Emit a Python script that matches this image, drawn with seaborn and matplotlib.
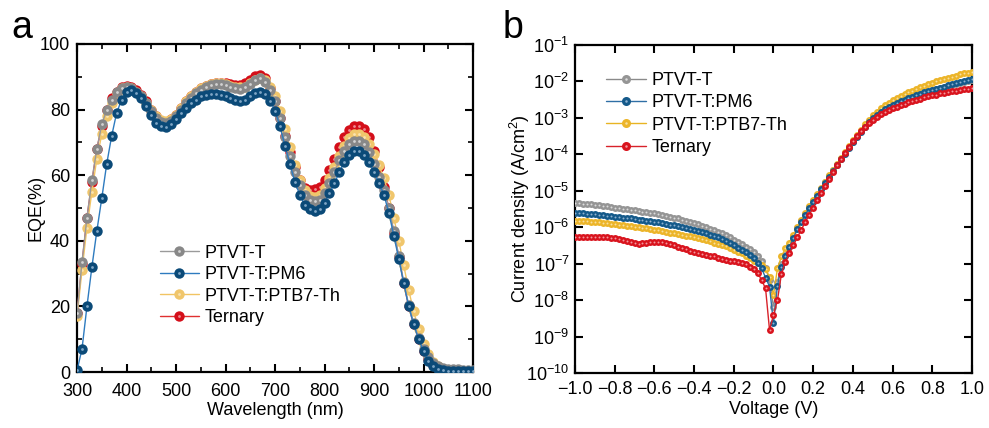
import numpy as np
import matplotlib
matplotlib.use("Agg")
import matplotlib.pyplot as plt
from matplotlib.lines import Line2D
from matplotlib.ticker import MultipleLocator, LogLocator, NullLocator
import seaborn as sns

# ---- data: EQE spectra (panel a) ----
wavelength = [300, 310, 320, 330, 340, 350, 360, 370, 380, 390,
              400, 410, 420, 430, 440, 450, 460, 470, 480, 490,
              500, 510, 520, 530, 540, 550, 560, 570, 580, 590,
              600, 610, 620, 630, 640, 650, 660, 670, 680, 690,
              700, 710, 720, 730, 740, 750, 760, 770, 780, 790,
              800, 810, 820, 830, 840, 850, 860, 870, 880, 890,
              900, 910, 920, 930, 940, 950, 960, 970, 980, 990,
              1000, 1010, 1020, 1030, 1040, 1050, 1060, 1070, 1080, 1090, 1100]

eqe_ptvt = [18, 33.5, 47, 58.5, 68, 75.5, 80, 83, 85.5, 86.5,
            86.8, 86.5, 85.5, 84, 82, 79.5, 77.5, 76.3, 76, 76.5,
            78, 80, 82, 83.5, 85, 86, 87, 87.5, 87.8, 87.7,
            87.5, 87, 86.5, 86.3, 86.8, 87.8, 89, 89.5, 88.5, 86,
            82.5, 77.5, 71.5, 66, 61, 57, 54, 52.5, 52, 52.5,
            54.5, 57.5, 61, 64.5, 67.5, 69.5, 70.5, 70.5, 69.5, 67,
            63.5, 59.5, 55.5, 50, 43, 35.5, 27.5, 20.5, 15, 10.5,
            7, 4.5, 2.8, 1.8, 1.2, 1, 0.9, 0.8, 0.7, 0.7, 0.7]

eqe_pm6 = [0.5, 7, 20, 32, 43, 53, 63.5, 72, 79, 83,
           85.5, 86, 85, 83.5, 81, 78.5, 76, 75, 74.6, 75.5,
           77, 79, 80.5, 82, 83, 84, 84.5, 84.8, 84.7, 84.3,
           84, 83.5, 83, 82.7, 83, 84, 85, 85.5, 84.8, 82.7,
           79.7, 74.9, 69, 63.4, 58, 54, 51, 49.7, 49.2, 49.8,
           51.5, 54.5, 57.5, 61, 64, 66.3, 67.3, 67.3, 66.3, 64,
           61, 57.5, 54, 48.5, 41.5, 34.5, 27, 20, 14.5, 10,
           6.3, 3.5, 1.8, 1, 0.6, 0.4, 0.3, 0.3, 0.3, 0.3, 0.3]

eqe_ptb7 = [17, 31, 44, 55, 65, 72.5, 78, 82, 85, 86.5,
            87, 86.5, 85.5, 84, 82, 80, 78, 76.8, 76.5, 77,
            78.5, 80.5, 82.5, 84, 85.5, 86.5, 87.3, 87.8, 88, 88,
            87.8, 87.3, 87, 86.8, 87, 88, 89, 89.5, 89, 87,
            84, 79.5, 74, 68.5, 63, 58.5, 55.5, 53.8, 53.5, 54,
            56, 59, 62.5, 66, 69, 71.3, 72.5, 72.6, 71.5, 69.5,
            66.5, 63, 59, 54, 47, 40, 32.5, 25, 18.5, 13,
            8.5, 5.5, 3.2, 1.8, 1, 0.6, 0.5, 0.4, 0.4, 0.4, 0.4]

eqe_ternary = [18, 33, 47, 58, 68, 75, 80, 83.5, 85.5, 86.8,
               87.3, 87, 86, 84.5, 82.5, 80, 78, 76.5, 76.3, 77,
               78.5, 80.5, 82.5, 84, 85.5, 86.5, 87.3, 87.8, 88, 88,
               88, 87.7, 87.5, 87.5, 88, 89, 90.3, 90.5, 89.5, 86.5,
               82.5, 77.5, 72, 67, 62.5, 58.5, 56, 55.5, 55.8, 56.5,
               58.5, 61.5, 65, 68.5, 71.5, 73.8, 75, 75, 74, 71.5,
               67.5, 62.5, 56.5, 50, 42.5, 35, 27, 20, 14.5, 10,
               6.5, 4, 2.2, 1.2, 0.7, 0.5, 0.4, 0.4, 0.4, 0.4, 0.4]

# ---- data: dark J-V (panel b), A/cm^2 ----
voltage = [-1.00, -0.98, -0.96, -0.94, -0.92, -0.90, -0.88, -0.86, -0.84, -0.82,
           -0.80, -0.78, -0.76, -0.74, -0.72, -0.70, -0.68, -0.66, -0.64, -0.62,
           -0.60, -0.58, -0.56, -0.54, -0.52, -0.50, -0.48, -0.46, -0.44, -0.42,
           -0.40, -0.38, -0.36, -0.34, -0.32, -0.30, -0.28, -0.26, -0.24, -0.22,
           -0.20, -0.18, -0.16, -0.14, -0.12, -0.10, -0.08, -0.06, -0.04, -0.02,
           0.00, 0.02, 0.04, 0.06, 0.08, 0.10, 0.12, 0.14, 0.16, 0.18,
           0.20, 0.22, 0.24, 0.26, 0.28, 0.30, 0.32, 0.34, 0.36, 0.38,
           0.40, 0.42, 0.44, 0.46, 0.48, 0.50, 0.52, 0.54, 0.56, 0.58,
           0.60, 0.62, 0.64, 0.66, 0.68, 0.70, 0.72, 0.74, 0.76, 0.78,
           0.80, 0.82, 0.84, 0.86, 0.88, 0.90, 0.92, 0.94, 0.96, 0.98, 1.00]

j_ptvt = [4.68e-6, 4.57e-6, 4.47e-6, 4.37e-6, 4.27e-6, 4.17e-6, 3.98e-6, 3.89e-6, 3.72e-6, 3.63e-6,
          3.47e-6, 3.39e-6, 3.24e-6, 3.16e-6, 3.02e-6, 2.95e-6, 2.82e-6, 2.69e-6, 2.63e-6, 2.51e-6,
          2.40e-6, 2.29e-6, 2.19e-6, 2.04e-6, 1.95e-6, 1.82e-6, 1.74e-6, 1.62e-6, 1.51e-6, 1.41e-6,
          1.29e-6, 1.20e-6, 1.10e-6, 1.00e-6, 9.12e-7, 8.32e-7, 7.59e-7, 6.76e-7, 6.03e-7, 5.25e-7,
          4.47e-7, 3.89e-7, 3.39e-7, 2.88e-7, 2.51e-7, 2.14e-7, 1.66e-7, 1.20e-7, 7.59e-8, 3.55e-8,
          6.31e-9, 3.16e-8, 9.55e-8, 1.74e-7, 3.02e-7, 5.37e-7, 9.33e-7, 1.48e-6, 2.29e-6, 3.55e-6,
          5.25e-6, 7.76e-6, 1.15e-5, 1.70e-5, 2.51e-5, 3.63e-5, 5.25e-5, 7.59e-5, 1.10e-4, 1.58e-4,
          2.24e-4, 3.09e-4, 4.27e-4, 5.75e-4, 7.59e-4, 9.77e-4, 1.20e-3, 1.45e-3, 1.70e-3, 1.95e-3,
          2.24e-3, 2.51e-3, 2.82e-3, 3.09e-3, 3.39e-3, 3.72e-3, 4.07e-3, 4.47e-3, 4.90e-3, 5.25e-3,
          5.75e-3, 6.17e-3, 6.61e-3, 7.08e-3, 7.59e-3, 8.13e-3, 8.71e-3, 9.33e-3, 9.77e-3, 1.05e-2, 1.12e-2]

j_pm6 = [2.51e-6, 2.45e-6, 2.40e-6, 2.34e-6, 2.29e-6, 2.24e-6, 2.19e-6, 2.14e-6, 2.04e-6, 2.00e-6,
         1.95e-6, 1.91e-6, 1.82e-6, 1.78e-6, 1.74e-6, 1.66e-6, 1.62e-6, 1.58e-6, 1.51e-6, 1.48e-6,
         1.41e-6, 1.35e-6, 1.29e-6, 1.23e-6, 1.17e-6, 1.12e-6, 1.07e-6, 1.00e-6, 9.55e-7, 8.91e-7,
         8.32e-7, 7.76e-7, 7.24e-7, 6.76e-7, 6.17e-7, 5.75e-7, 5.25e-7, 4.79e-7, 4.27e-7, 3.72e-7,
         3.16e-7, 2.75e-7, 2.40e-7, 2.09e-7, 1.74e-7, 1.41e-7, 1.05e-7, 7.41e-8, 4.17e-8, 2.34e-8,
         2.29e-9, 2.51e-8, 8.32e-8, 1.58e-7, 2.82e-7, 5.01e-7, 8.91e-7, 1.41e-6, 2.19e-6, 3.39e-6,
         5.01e-6, 7.41e-6, 1.10e-5, 1.62e-5, 2.40e-5, 3.47e-5, 5.01e-5, 7.24e-5, 1.05e-4, 1.51e-4,
         2.14e-4, 3.02e-4, 4.17e-4, 5.75e-4, 7.76e-4, 1.00e-3, 1.23e-3, 1.48e-3, 1.74e-3, 2.00e-3,
         2.29e-3, 2.57e-3, 2.88e-3, 3.16e-3, 3.47e-3, 3.80e-3, 4.17e-3, 4.57e-3, 5.01e-3, 5.37e-3,
         5.89e-3, 6.31e-3, 6.76e-3, 7.24e-3, 7.76e-3, 8.32e-3, 8.91e-3, 9.55e-3, 1.00e-2, 1.07e-2, 1.15e-2]

j_ptb7 = [1.51e-6, 1.48e-6, 1.48e-6, 1.45e-6, 1.41e-6, 1.38e-6, 1.35e-6, 1.32e-6, 1.29e-6, 1.26e-6,
          1.20e-6, 1.17e-6, 1.15e-6, 1.10e-6, 1.07e-6, 1.02e-6, 1.00e-6, 9.55e-7, 9.33e-7, 8.91e-7,
          8.32e-7, 8.13e-7, 7.76e-7, 7.41e-7, 7.08e-7, 6.76e-7, 6.46e-7, 6.17e-7, 5.89e-7, 5.62e-7,
          5.25e-7, 5.01e-7, 4.68e-7, 4.37e-7, 4.07e-7, 3.80e-7, 3.55e-7, 3.31e-7, 3.02e-7, 2.69e-7,
          2.40e-7, 2.14e-7, 1.91e-7, 1.66e-7, 1.41e-7, 1.20e-7, 1.05e-7, 9.12e-8, 7.08e-8, 4.37e-8,
          1.38e-8, 7.41e-8, 1.58e-7, 2.63e-7, 3.80e-7, 6.03e-7, 1.00e-6, 1.58e-6, 2.45e-6, 3.72e-6,
          5.50e-6, 8.13e-6, 1.20e-5, 1.78e-5, 2.63e-5, 3.80e-5, 5.50e-5, 7.94e-5, 1.15e-4, 1.66e-4,
          2.40e-4, 3.39e-4, 4.79e-4, 6.61e-4, 8.91e-4, 1.17e-3, 1.48e-3, 1.82e-3, 2.19e-3, 2.57e-3,
          3.02e-3, 3.47e-3, 3.98e-3, 4.47e-3, 5.01e-3, 5.62e-3, 6.31e-3, 6.92e-3, 7.59e-3, 8.32e-3,
          9.12e-3, 1.00e-2, 1.07e-2, 1.17e-2, 1.26e-2, 1.35e-2, 1.45e-2, 1.55e-2, 1.66e-2, 1.74e-2, 1.86e-2]

j_ternary = [5.25e-7, 5.37e-7, 5.37e-7, 5.50e-7, 5.50e-7, 5.50e-7, 5.37e-7, 5.25e-7, 5.25e-7, 5.13e-7,
             5.01e-7, 4.68e-7, 4.37e-7, 4.07e-7, 3.89e-7, 3.72e-7, 3.55e-7, 3.63e-7, 3.80e-7, 3.98e-7,
             3.98e-7, 3.98e-7, 3.89e-7, 3.72e-7, 3.47e-7, 3.24e-7, 2.95e-7, 2.69e-7, 2.51e-7, 2.29e-7,
             2.14e-7, 1.95e-7, 1.82e-7, 1.74e-7, 1.66e-7, 1.58e-7, 1.45e-7, 1.32e-7, 1.23e-7, 1.17e-7,
             1.15e-7, 1.12e-7, 1.05e-7, 9.55e-8, 8.32e-8, 7.08e-8, 5.62e-8, 3.55e-8, 2.09e-8, 1.51e-9,
             3.89e-9, 1.00e-8, 5.25e-8, 1.12e-7, 1.91e-7, 3.16e-7, 5.25e-7, 8.51e-7, 1.38e-6, 2.19e-6,
             3.47e-6, 5.50e-6, 8.71e-6, 1.38e-5, 2.14e-5, 3.31e-5, 5.01e-5, 7.59e-5, 1.12e-4, 1.62e-4,
             2.29e-4, 3.16e-4, 4.27e-4, 5.62e-4, 7.24e-4, 8.91e-4, 1.07e-3, 1.26e-3, 1.45e-3, 1.62e-3,
             1.82e-3, 2.04e-3, 2.24e-3, 2.45e-3, 2.69e-3, 2.88e-3, 3.16e-3, 3.39e-3, 3.63e-3, 3.89e-3,
             4.17e-3, 4.37e-3, 4.68e-3, 4.90e-3, 5.13e-3, 5.37e-3, 5.62e-3, 5.89e-3, 6.03e-3, 6.31e-3, 6.46e-3]

labels = ["PTVT-T", "PTVT-T:PM6", "PTVT-T:PTB7-Th", "Ternary"]

# ---- style ----
sns.set_style("ticks")
plt.rcParams["font.family"] = ["Liberation Sans", "DejaVu Sans"]
plt.rcParams["mathtext.fontset"] = "custom"
plt.rcParams["mathtext.rm"] = "Liberation Sans"
plt.rcParams["mathtext.it"] = "Liberation Sans:italic"
plt.rcParams["font.size"] = 13
for k in ["text.color", "axes.labelcolor", "xtick.color", "ytick.color"]:
    plt.rcParams[k] = "black"

fig = plt.figure(figsize=(9.89, 4.28), dpi=100)
ax1 = fig.add_axes([0.0779, 0.1308, 0.4004, 0.7664])
ax2 = fig.add_axes([0.5814, 0.1285, 0.4014, 0.7664])

# (line colour, marker colour, highlight colour) per series
eqe_style = {
    "PTVT-T": ("#9a9a9a", "#888888", "#d2d2d2"),
    "PTVT-T:PM6": ("#2e7bbf", "#0b4a78", "#7fa6c6"),
    "PTVT-T:PTB7-Th": ("#f1c463", "#f0c66c", "#f9e3b0"),
    "Ternary": ("#e03030", "#d40f1a", "#ee8a90"),
}
jv_style = {
    "PTVT-T": ("#8a8a8a", "#959595", "#dcdcdc"),
    "PTVT-T:PM6": ("#2f6fa5", "#155a8a", "#8fb2d0"),
    "PTVT-T:PTB7-Th": ("#e8b423", "#ecb52a", "#f8dfa0"),
    "Ternary": ("#d8222a", "#d9141e", "#f19a9f"),
}


def draw(ax, x, y, lab, style, ms, hl_ms, z):
    lc, mc, hc = style[lab]
    sns.lineplot(x=x, y=y, ax=ax, color=lc, linewidth=1.0, marker="o",
                 markersize=ms, markerfacecolor=mc, markeredgewidth=0,
                 sort=False, errorbar=None, zorder=z)
    ax.plot(x, y, ls="none", marker="o", ms=hl_ms, mfc=hc, mew=0, zorder=z + 0.5)


def legend_handles(style, ms, hl_ms):
    hs = []
    for lab in labels:
        lc, mc, hc = style[lab]
        ball = Line2D([], [], color=lc, lw=1.0, marker="o", ms=ms, mfc=mc, mew=0)
        hl = Line2D([], [], ls="none", marker="o", ms=hl_ms, mfc=hc, mew=0)
        hs.append((ball, hl))
    return hs


# panel a : draw order red, yellow, gray, blue
eqe_series = {"PTVT-T": eqe_ptvt, "PTVT-T:PM6": eqe_pm6,
              "PTVT-T:PTB7-Th": eqe_ptb7, "Ternary": eqe_ternary}
for z, lab in zip([3, 4, 5, 6], ["Ternary", "PTVT-T:PTB7-Th", "PTVT-T", "PTVT-T:PM6"]):
    draw(ax1, wavelength, eqe_series[lab], lab, eqe_style, 7.5, 2.0, z)

ax1.set_xlim(300, 1100)
ax1.set_ylim(0, 100)
ax1.xaxis.set_major_locator(MultipleLocator(100))
ax1.xaxis.set_minor_locator(MultipleLocator(50))
ax1.yaxis.set_major_locator(MultipleLocator(20))
ax1.yaxis.set_minor_locator(MultipleLocator(10))
ax1.set_xlabel("Wavelength (nm)", labelpad=1)
ax1.set_ylabel("EQE(%)", labelpad=-3)
ax1.legend(legend_handles(eqe_style, 7.5, 2.0), labels, loc="upper left",
           bbox_to_anchor=(0.19, 0.41), frameon=False, handlelength=2.2,
           handletextpad=0.3, labelspacing=0.25, borderaxespad=0, fontsize=13)

# panel b : draw order gray, yellow, blue, red
jv_series = {"PTVT-T": j_ptvt, "PTVT-T:PM6": j_pm6,
             "PTVT-T:PTB7-Th": j_ptb7, "Ternary": j_ternary}
for z, lab in zip([3, 4, 5, 6], ["PTVT-T", "PTVT-T:PTB7-Th", "PTVT-T:PM6", "Ternary"]):
    draw(ax2, voltage, jv_series[lab], lab, jv_style, 5.0, 1.4, z)

ax2.set_yscale("log")
ax2.set_xlim(-1.0, 1.0)
ax2.set_ylim(1e-10, 1e-1)
ax2.xaxis.set_major_locator(MultipleLocator(0.2))
ax2.xaxis.set_minor_locator(NullLocator())
ax2.yaxis.set_major_locator(LogLocator(base=10, numticks=12))
ax2.yaxis.set_minor_locator(NullLocator())
ax2.set_xlabel("Voltage (V)", labelpad=2)
ax2.set_ylabel("Current density (A/cm$^2$)", labelpad=-4)
ax2.legend(legend_handles(jv_style, 6.5, 1.8), labels, loc="upper left",
           bbox_to_anchor=(0.06, 0.94), frameon=False, handlelength=2.2,
           handletextpad=0.3, labelspacing=0.3, borderaxespad=0, fontsize=13)

for ax in (ax1, ax2):
    for s in ax.spines.values():
        s.set_linewidth(1.6)
        s.set_color("black")
    ax.tick_params(which="major", direction="in", length=6, width=1.5,
                   top=True, right=True, labelsize=13, pad=4)
    ax.tick_params(which="minor", direction="in", length=3.5, width=1.2,
                   top=True, right=True)
ax1.tick_params(axis="x", which="major", pad=8)
ax1.tick_params(axis="y", which="major", pad=5)
ax2.tick_params(axis="x", which="major", pad=6)

fig.text(0.012, 0.912, "a", fontsize=27, va="baseline")
fig.text(0.508, 0.912, "b", fontsize=27, va="baseline")

fig.savefig("out.png", dpi=100)
